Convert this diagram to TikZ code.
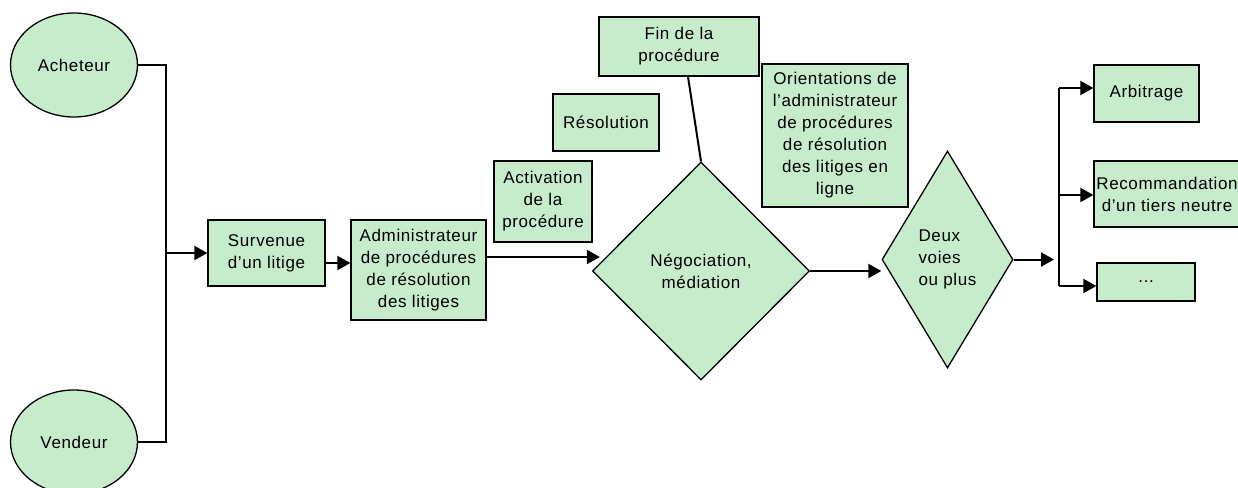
\documentclass[tikz,border=0pt]{standalone}
\usepackage{fontspec}
\setmainfont{Liberation Sans}[LetterSpace=3.6]
\usetikzlibrary{shapes.geometric,arrows.meta,calc}
\definecolor{boxgreen}{RGB}{198,236,204}
\begin{document}
\begin{tikzpicture}[x=1pt,y=-1pt,
  base/.style={draw=black,line width=1.3pt,fill=boxgreen,inner sep=0pt,align=center,font=\fontsize{17}{22}\selectfont},
  box/.style={base,rectangle},
  oval/.style={base,ellipse},
  dia/.style={base,diamond},
  conn/.style={line width=2pt},
  arr/.style={conn,-{Triangle[length=13pt,width=14pt]}}]
\useasboundingbox (0,0) rectangle (1238,487);
% nodes
\node[oval,minimum width=127pt,minimum height=104pt] (ach) at (74,65) {Acheteur};
\node[oval,minimum width=127pt,minimum height=104pt] (ven) at (74,442) {Vendeur};
\node[box,minimum width=117pt,minimum height=66pt] (sur) at (266.5,253) {Survenue\\d’un litige};
\node[box,minimum width=135pt,minimum height=100pt] (adm) at (418.5,270) {Administrateur\\de procédures\\de résolution\\des litiges};
\node[box,minimum width=98pt,minimum height=81pt] (act) at (543,201.5) {Activation\\de la\\procédure};
\node[box,minimum width=106pt,minimum height=57pt] (res) at (606,122.5) {Résolution};
\node[box,minimum width=160pt,minimum height=59pt] (fin) at (679,46.5) {Fin de la\\procédure};
\node[dia,minimum width=217pt,minimum height=218pt] (neg) at (701,271) {Négociation,\\médiation};
\node[box,minimum width=146pt,minimum height=143pt] (ori) at (835,135.5) {Orientations de\\l’administrateur\\de procédures\\de résolution\\des litiges en\\ligne};
\node[dia,minimum width=131pt,minimum height=217pt,align=left] (deux) at (947.5,259.5) {Deux\\voies\\ou plus};
\node[box,minimum width=105pt,minimum height=57pt] (arb) at (1146.5,93.5) {Arbitrage};
\node[box,minimum width=146pt,minimum height=66pt] (rec) at (1167,194) {Recommandation\\d’un tiers neutre};
\node[box,minimum width=98pt,minimum height=38pt] (dots) at (1146,282) {…};
% coordinates
\coordinate (j) at (166,253);
\coordinate (s1) at ($(sur.east)+(0,10)$);
\coordinate (a1) at ($(adm.east)+(0,-13)$);
\coordinate (n1) at ($(neg.west)+(8,-14)$);
\coordinate (dend) at (1054,260);
\coordinate (t1) at (1059,88);
\coordinate (t2) at (1059,195);
\coordinate (t3) at (1059,286);
% connectors
\draw[conn] (ach.east) -- (ach.east -| j) -- (ven.east -| j) -- (ven.east);
\draw[arr] (j) -- (sur.west);
\draw[arr] (s1) -- (s1 -| adm.west);
\draw[arr] (a1) -- (a1 -| n1);
\draw[conn] ($(fin.south)+(9,0)$) -- (neg.north);
\draw[arr] (neg.east) -- (neg.east -| deux.west);
\draw[arr] (deux.east) -- (deux.east -| dend);
\draw[conn] (t1) -- (t3);
\draw[arr] (t1) -- (t1 -| arb.west);
\draw[arr] (t2) -- (t2 -| rec.west);
\draw[arr] (t3) -- (t3 -| dots.west);
\end{tikzpicture}
\end{document}
